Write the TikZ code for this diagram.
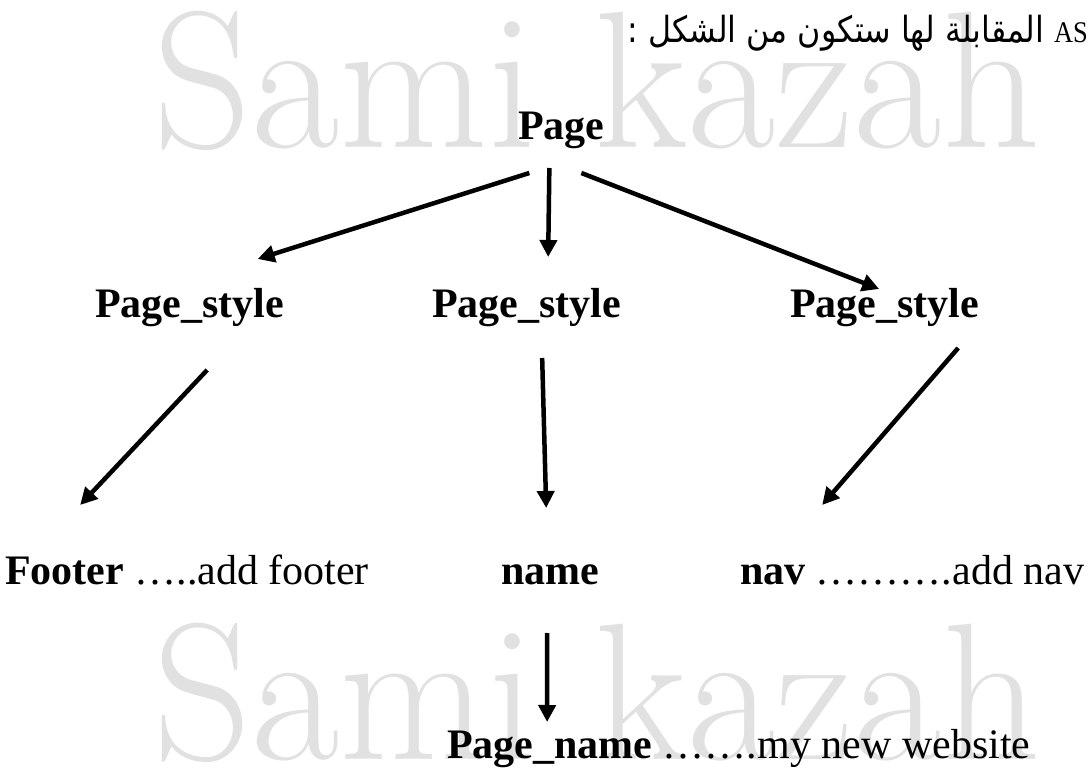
\documentclass[tikz,border=0pt]{standalone}
\usepackage{fontspec}
\setmainfont{Liberation Serif}
\newfontfamily\arabicfont[Script=Arabic]{DejaVu Sans}
\TeXXeTstate=1
\usetikzlibrary{arrows.meta}
\definecolor{wm}{RGB}{225,225,225}
\begin{document}
\begin{tikzpicture}[x=1pt,y=-1pt,
  lbl/.style={inner sep=0pt, anchor=base west, font=\fontsize{42}{42}\selectfont\bfseries},
  plain/.style={inner sep=0pt, anchor=base west, font=\fontsize{42}{42}\selectfont},
  wmark/.style={inner sep=0pt, anchor=base west, text=wm},
  arr/.style={-{Triangle[width=17pt,length=17pt]}, line width=4.5pt}
]
\useasboundingbox[fill=white] (0,0) rectangle (1088,775);
% watermarks
\node[wmark] (wm1) at (153,148) {\scalebox{0.986}[1]{\fontfamily{lmr}\fontsize{195}{195}\selectfont Sami kazah}};
\node[wmark] (wm2) at (153,759) {\scalebox{0.986}[1]{\fontfamily{lmr}\fontsize{195}{195}\selectfont Sami kazah}};
% heading
\node[inner sep=0pt, anchor=base east] (head) at (1088,43)
  {\scalebox{0.88}[1]{\fontsize{36}{36}\selectfont\arabicfont\beginR\beginL{\rmfamily\fontsize{30}{30}\selectfont AS}\endL{} المقابلة لها ستكون من الشكل :\endR}};
% tree
\node[lbl] (page) at (518,140) {Page};
\node[lbl] (ps1) at (95,318) {Page\_style};
\node[lbl] (ps2) at (432,318) {Page\_style};
\node[lbl] (ps3) at (790,318) {Page\_style};
\node[lbl] (footer) at (5,585) {Footer};
\node[plain] (footertxt) at ([xshift=10pt]footer.base east) {…..add footer};
\node[lbl] (name) at (501,585) {name};
\node[lbl] (nav) at (740,585) {nav};
\node[plain] (navtxt) at ([xshift=10pt]nav.base east) {……….add nav};
\node[lbl] (pname) at (447,758) {Page\_name};
\node[plain] (pnametxt) at ([xshift=10pt]pname.base east) {…….my new website};
% connectors
\draw[arr] ([shift={(-32,33)}]page.base) -- ([shift={(68,-59)}]ps1.base);
\draw[arr] ([shift={(-12,28)}]page.base) -- ([shift={(21.5,-61)}]ps2.base);
\draw[arr] ([shift={(20,33)}]page.base) -- ([shift={(-5.5,-29)}]ps3.base);
\draw[arr] ([shift={(17.5,52)}]ps1.base) -- ([shift={(15.5,-80)}]footer.base);
\draw[arr] ([shift={(15.5,40)}]ps2.base) -- ([shift={(-4,-77)}]name.base);
\draw[arr] ([shift={(73.5,30)}]ps3.base) -- ([shift={(49.3,-80)}]nav.base);
\draw[arr] ([shift={(-3,48)}]name.base) -- ([shift={(-2.7,-36)}]pname.base);
\end{tikzpicture}
\end{document}
